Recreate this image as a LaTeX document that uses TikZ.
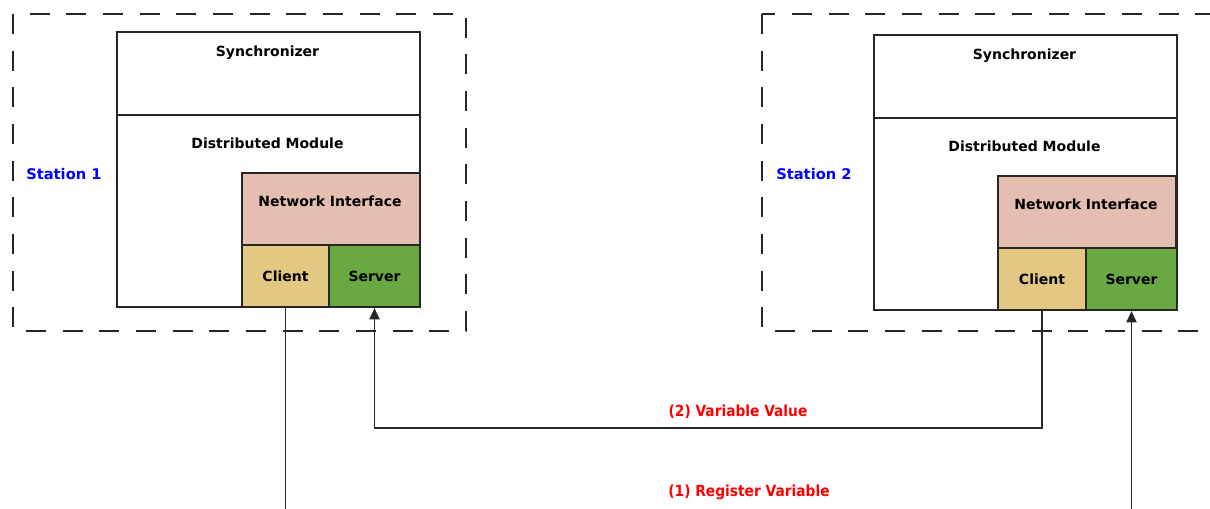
\documentclass[tikz,border=0pt]{standalone}
\usepackage{fontspec}
\setmainfont{DejaVu Sans}
\newfontfamily\condfont{DejaVu Sans Condensed}
\usetikzlibrary{arrows.meta}
\definecolor{netpink}{HTML}{E4BEB0}
\definecolor{clientyel}{HTML}{E2C882}
\definecolor{servgreen}{HTML}{6AA842}
\definecolor{stblue}{HTML}{0000FF}
\definecolor{msgred}{HTML}{FF0000}
\begin{document}
\begin{tikzpicture}[x=0.75pt,y=-0.75pt,
  box/.style={draw=black!85, line width=1.5pt, inner sep=0pt, anchor=north west},
  wide/.style={minimum width=227.25pt},
  lbl/.style={font=\fontsize{10.5}{12}\selectfont\bfseries, inner sep=0pt},
  stlbl/.style={font=\fontsize{11}{13}\selectfont\bfseries, text=stblue, inner sep=0pt},
  msg/.style={font=\condfont\fontsize{11.5}{13}\selectfont\bfseries, text=msgred, inner sep=0pt},
  stationbox/.style={draw=black!85, line width=1.5pt, dash pattern=on 15pt off 12.5pt},
  conn/.style={draw=black!85, line width=1.4pt},
  arr/.style={conn, -{Triangle[width=7.5pt,length=8.5pt]}}]
\useasboundingbox (0,0) rectangle (1210,508);
\clip (0,0) rectangle (1210,508);

% station frames
\draw[stationbox] (13,14) rectangle (466,331);
\draw[stationbox] (762,14) rectangle (1240,331);
\node[stlbl, anchor=west] (st1) at (26,174) {Station 1};
\node[stlbl, anchor=west] (st2) at (776,174) {Station 2};

% station 1
\node[box, wide, minimum height=62.25pt] (sync1) at (116,31) {};
\node[box, wide, minimum height=144pt] (dm1) at (116,114) {};
\node[box, fill=netpink, minimum width=133.5pt, minimum height=54pt] (ni1) at (241,172) {};
\node[box, fill=clientyel, minimum width=65.25pt, minimum height=46.5pt, lbl] (cl1) at (241,244) {Client};
\node[box, fill=servgreen, minimum width=68.25pt, minimum height=46.5pt, lbl] (sv1) at (328,244) {Server};
\node[lbl] (tsync1) at (267.5,53) {Synchronizer};
\node[lbl] (tdm1) at (267.5,143) {Distributed Module};
\node[lbl] (tni1) at (330,201) {Network Interface};

% station 2
\node[box, wide, minimum height=62.25pt] (sync2) at (873,34) {};
\node[box, wide, minimum height=144pt] (dm2) at (873,117) {};
\node[box, fill=netpink, minimum width=133.5pt, minimum height=54pt] (ni2) at (997,175) {};
\node[box, fill=clientyel, minimum width=66pt, minimum height=46.5pt, lbl] (cl2) at (997,247) {Client};
\node[box, fill=servgreen, minimum width=68.25pt, minimum height=46.5pt, lbl] (sv2) at (1085,247) {Server};
\node[lbl] (tsync2) at (1024.5,56) {Synchronizer};
\node[lbl] (tdm2) at (1024.5,146) {Distributed Module};
\node[lbl] (tni2) at (1086,204) {Network Interface};

% connectors
\coordinate (mid) at (0,428);
\coordinate (bot) at (0,520);
\draw[arr] (cl2.south) -- (cl2.south |- mid) -- (sv1.south |- mid) -- (sv1.south);
\draw[conn] (cl1.south) -- (cl1.south |- bot);
\draw[arr] (sv2.south |- bot) -- (sv2.south);

\node[msg] (m2) at (738,412) {(2) Variable Value};
\node[msg] (m1) at (749,492) {(1) Register Variable};
\end{tikzpicture}
\end{document}
